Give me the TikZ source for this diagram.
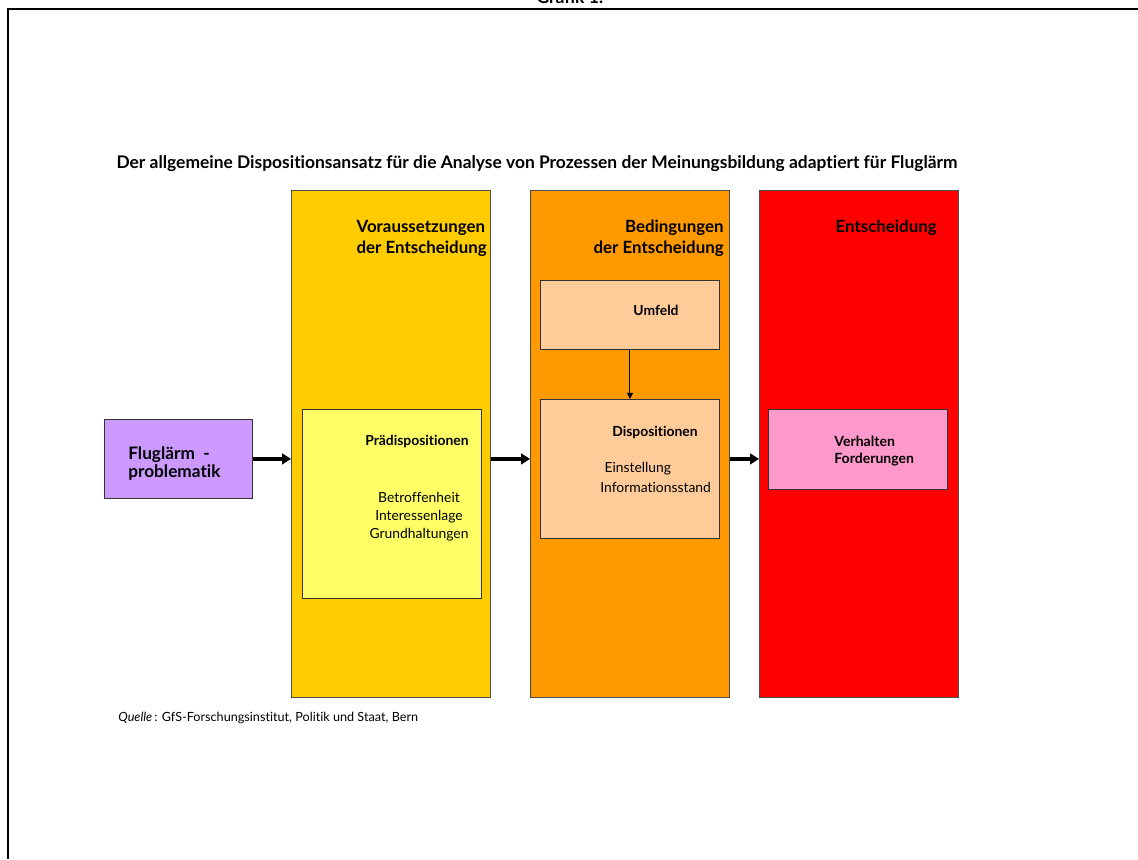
\documentclass[tikz,border=0pt]{standalone}
\usepackage{fontspec}
\setmainfont{Lato}[Ligatures=NoCommon]
\usetikzlibrary{arrows.meta}

\definecolor{flugviolet}{HTML}{CC99FF}
\definecolor{voryellow}{HTML}{FFCC00}
\definecolor{praeyellow}{HTML}{FFFF66}
\definecolor{bedorange}{HTML}{FF9900}
\definecolor{dispbeige}{HTML}{FFCC99}
\definecolor{entred}{HTML}{FF0000}
\definecolor{verhpink}{HTML}{FF99CC}

\tikzset{
  column/.style={draw=black!70, line width=0.5pt, anchor=north west,
    minimum width=3.98cm, minimum height=10.14cm, inner sep=0pt},
  innerbox/.style={draw=black!80, line width=0.5pt, anchor=north west,
    minimum width=3.58cm, inner sep=0pt},
  coltitle/.style={font=\fontsize{9.6}{11.8}\selectfont\bfseries, align=left, inner sep=0pt},
  boxtitle/.style={font=\fontsize{7.9}{9.5}\selectfont\bfseries, inner sep=0pt},
  boxtext/.style={font=\fontsize{7.9}{10.2}\selectfont, align=center, inner sep=0pt},
  flow/.style={line width=2pt, -{Triangle[length=5pt,width=6pt]}},
  thinflow/.style={line width=0.6pt, -{Triangle[length=3.5pt,width=3.5pt]}}
}

\begin{document}
\begin{tikzpicture}[x=0.02cm, y=-0.02cm]
  \useasboundingbox (0,0) rectangle (1138,859);
  % frame
  \draw[line width=1.4pt] (8,859) -- (8,9) -- (1138,9);
  \node[font=\fontsize{10}{12}\selectfont\bfseries, anchor=base] (grafik) at (570,3) {Grafik 1:};
  \node[font=\fontsize{9.9}{11}\selectfont\bfseries, anchor=base] (heading) at (537,168)
    {Der allgemeine Dispositionsansatz für die Analyse von Prozessen der Meinungsbildung adaptiert für Fluglärm};

  % columns
  \node[column, fill=voryellow] (vor) at (291,190) {};
  \node[column, fill=bedorange] (bed) at (530,190) {};
  \node[column, fill=entred] (ent) at (759,190) {};
  \node[coltitle, anchor=north east] (vortitle) at (487,220) {Voraussetzungen\\der Entscheidung};
  \node[coltitle, anchor=north east, align=right] (bedtitle) at (724,220) {Bedingungen\\der Entscheidung};
  \node[coltitle, anchor=north east] (enttitle) at (937,220) {Entscheidung};

  % start box
  \node[draw=black!80, line width=0.5pt, fill=flugviolet, anchor=north west,
    minimum width=2.96cm, minimum height=1.58cm, inner sep=0pt] (flug) at (104,419) {};
  \node[font=\fontsize{9.8}{10.5}\selectfont\bfseries, align=left, anchor=north west, inner sep=0pt]
    (flugtext) at (128,446) {Fluglärm~~-\\problematik};

  % inner boxes
  \node[innerbox, fill=praeyellow, minimum height=3.78cm] (prae) at (302,409) {};
  \node[boxtitle, anchor=base] (praetitle) at (417,445) {Prädispositionen};
  \node[boxtext, anchor=north] (praetext) at (419,492) {Betroffenheit\\Interessenlage\\Grundhaltungen};

  \node[innerbox, fill=dispbeige, minimum height=1.38cm] (umf) at (540,280) {};
  \node[boxtitle, anchor=base] (umftitle) at (656,315) {Umfeld};
  \node[innerbox, fill=dispbeige, minimum height=2.78cm] (disp) at (540,399) {};
  \node[boxtitle, anchor=base] (disptitle) at (655,436) {Dispositionen};
  \node[boxtext, anchor=north west, align=left, font=\fontsize{7.9}{11.3}\selectfont] (disptext) at (600,462)
    {\hspace*{6\pgflinewidth}Einstellung\\Informationsstand};

  \node[innerbox, fill=verhpink, minimum height=1.6cm] (verh) at (768,409) {};
  \node[boxtitle, align=left, anchor=north west, font=\fontsize{8}{9.6}\selectfont\bfseries]
    (verhtext) at (834,436) {Verhalten\\Forderungen};

  % connectors
  \draw[flow] (flug.east) -- (flug.east -| vor.west);
  \draw[flow] (vor.east |- flug.east) -- (bed.west |- flug.east);
  \draw[flow] (bed.east |- flug.east) -- (ent.west |- flug.east);
  \draw[thinflow] (umf.south) -- (disp.north);

  \node[font=\fontsize{7.2}{8}\selectfont, anchor=base west, inner sep=0pt] (quelle) at (118,721)
    {\textit{Quelle}\,: GfS-Forschungsinstitut, Politik und Staat, Bern};
\end{tikzpicture}
\end{document}
